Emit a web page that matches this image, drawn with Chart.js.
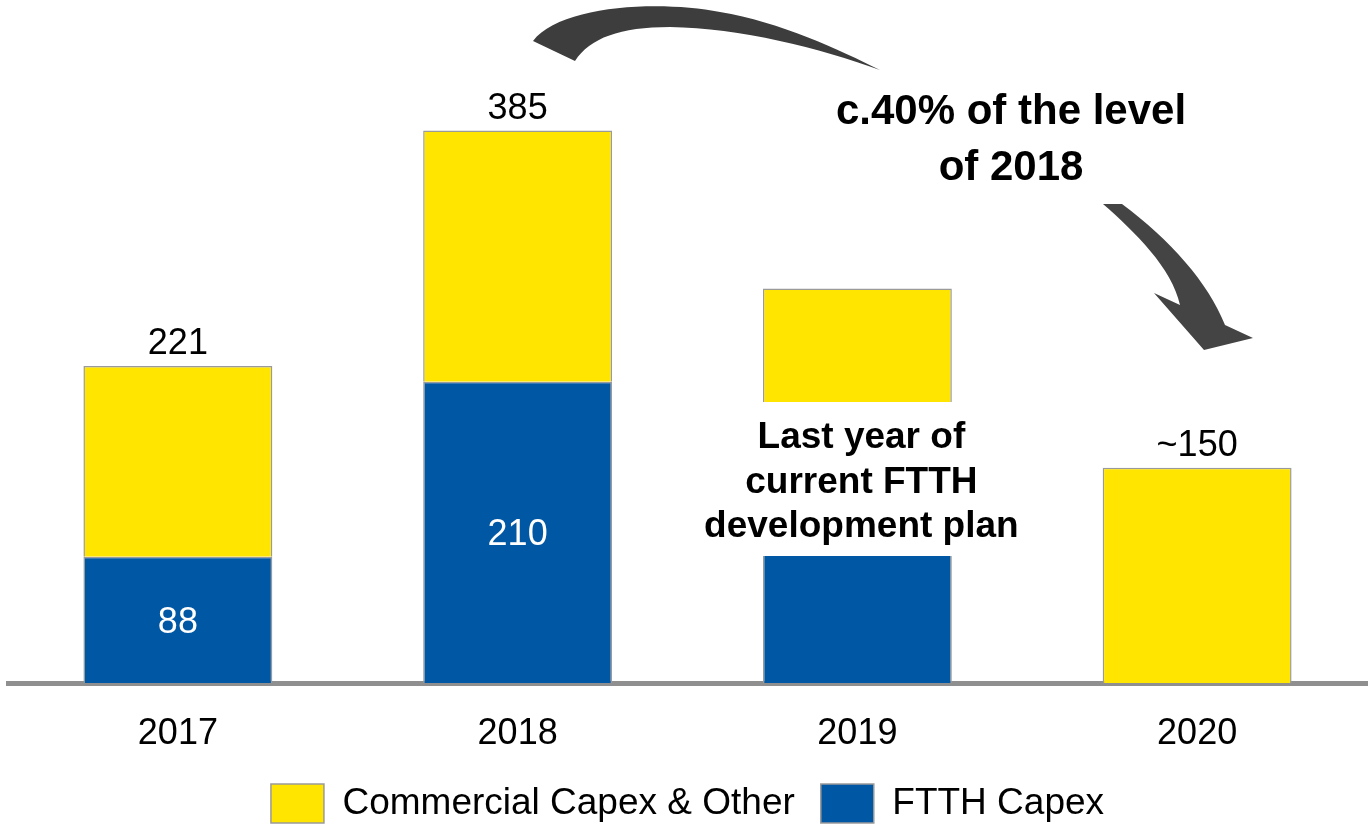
<!DOCTYPE html>
<html>
<head>
<meta charset="utf-8">
<script src="https://cdn.jsdelivr.net/npm/chart.js@4.4.1/dist/chart.umd.min.js"></script>
<style>
  body { margin: 0; background: #fff; }
  #wrap { width: 1370px; height: 828px; }
</style>
</head>
<body>
<div id="wrap"><canvas id="capexChart" width="1370" height="828"></canvas></div>
<script>
const years = ['2017', '2018', '2019', '2020'];
const ftthCapex = [88, 210, 135, null];
const commercialCapex = [133, 175, 140, 150];
const totalLabels = ['221', '385', '', '~150'];
const ftthLabels = ['88', '210', '', ''];
const yMax = 476;

const FONT = "'Liberation Sans', Arial, sans-serif";
const YELLOW = '#FFE500';
const BLUE = '#0057A4';
const EDGE = '#9a9a9a';

Chart.defaults.font.family = FONT;
Chart.defaults.color = '#000';

const labelsPlugin = {
    id: 'labelsPlugin',
    afterDatasetsDraw(chart) {
        const ctx = chart.ctx;
        const ftthMeta = chart.getDatasetMeta(0);
        const comMeta = chart.getDatasetMeta(1);
        ctx.save();
        ctx.textAlign = 'center';
        ctx.textBaseline = 'alphabetic';

        // values inside the blue part
        ctx.font = '36px ' + FONT;
        ctx.fillStyle = '#fff';
        ftthMeta.data.forEach((bar, i) => {
            if (!ftthLabels[i]) return;
            const mid = (bar.y + bar.base) / 2;
            ctx.fillText(ftthLabels[i], bar.x, mid + 13);
        });

        // totals above the stacks
        ctx.fillStyle = '#000';
        comMeta.data.forEach((bar, i) => {
            if (!totalLabels[i]) return;
            ctx.fillText(totalLabels[i], bar.x, bar.y - 12);
        });

        // white text box on the 2019 bar
        const b19 = comMeta.data[2];
        ctx.fillStyle = '#fff';
        ctx.fillRect(b19.x - 160, 402, 320, 154);
        ctx.fillStyle = '#000';
        ctx.font = 'bold 37px ' + FONT;
        ctx.fillText('Last year of', b19.x + 4, 448);
        ctx.fillText('current FTTH', b19.x + 4, 493);
        ctx.fillText('development plan', b19.x + 4, 537);

        // annotation
        ctx.font = 'bold 42px ' + FONT;
        ctx.fillText('c.40% of the level', 1011, 124);
        ctx.fillText('of 2018', 1011, 180);

        // curved arrow (two visible pieces)
        ctx.fillStyle = '#3d3d3d';
        ctx.beginPath();
        ctx.moveTo(533, 41);
        ctx.bezierCurveTo(560, 5, 660, 0, 720, 12);
        ctx.bezierCurveTo(780, 22, 840, 50, 880, 70);
        ctx.bezierCurveTo(820, 48, 740, 28, 670, 27);
        ctx.bezierCurveTo(620, 27, 590, 38, 575, 61);
        ctx.closePath();
        ctx.fill();

        ctx.fillStyle = '#444';
        ctx.beginPath();
        ctx.moveTo(1103, 204);
        ctx.bezierCurveTo(1135, 232, 1172, 268, 1180, 305);
        ctx.lineTo(1154, 293);
        ctx.lineTo(1204, 350);
        ctx.lineTo(1253, 338);
        ctx.lineTo(1225, 325);
        ctx.bezierCurveTo(1208, 282, 1170, 240, 1122, 204);
        ctx.closePath();
        ctx.fill();
        ctx.restore();
    }
};

new Chart(document.getElementById('capexChart'), {
    type: 'bar',
    data: {
        labels: years,
        datasets: [{
            label: 'FTTH Capex',
            data: ftthCapex,
            backgroundColor: BLUE,
            borderColor: EDGE,
            borderWidth: 1.5
        }, {
            label: 'Commercial Capex & Other',
            data: commercialCapex,
            backgroundColor: YELLOW,
            borderColor: EDGE,
            borderWidth: 1.5
        }]
    },
    options: {
        responsive: false,
        animation: false,
        layout: { padding: { left: 8, right: 3, top: 0, bottom: -5 } },
        datasets: {
            bar: { categoryPercentage: 1, barPercentage: 0.556 }
        },
        plugins: {
            legend: {
                position: 'bottom',
                reverse: true,
                labels: {
                    boxWidth: 53,
                    boxHeight: 39,
                    padding: 26,
                    font: { size: 37 },
                    color: '#000'
                }
            },
            tooltip: { enabled: false }
        },
        scales: {
            x: {
                stacked: true,
                grid: { display: false, drawTicks: false },
                border: { display: true, color: '#8f8f8f', width: 5 },
                ticks: { font: { size: 36 }, color: '#000', padding: 29 },
                afterFit: (scale) => { scale.height = 75; }
            },
            y: {
                stacked: true,
                display: false,
                min: 0,
                max: yMax
            }
        }
    },
    plugins: [labelsPlugin]
});
</script>
</body>
</html>
